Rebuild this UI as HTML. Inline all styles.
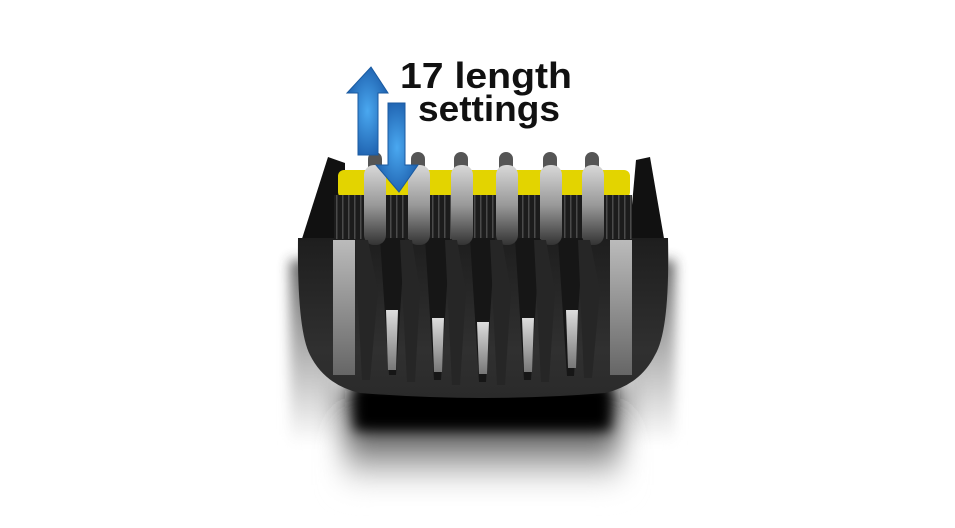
<!DOCTYPE html>
<html><head><meta charset="utf-8"><style>
html,body{margin:0;padding:0;background:#fff;}
svg{display:block}
</style></head><body>
<svg width="955" height="528" viewBox="0 0 955 528" xmlns="http://www.w3.org/2000/svg">
<defs>
<filter id="blur" x="-30%" y="-30%" width="160%" height="160%"><feGaussianBlur stdDeviation="14"/></filter>
<filter id="blur2" x="-30%" y="-30%" width="160%" height="160%"><feGaussianBlur stdDeviation="6"/></filter>
<linearGradient id="sh" x1="0" y1="0" x2="0" y2="1">
<stop offset="0" stop-color="#000"/><stop offset="0.3" stop-color="#111"/><stop offset="0.7" stop-color="#999"/><stop offset="1" stop-color="#fff"/>
</linearGradient>
<linearGradient id="side" x1="0" y1="0" x2="0" y2="1">
<stop offset="0" stop-color="#333"/><stop offset="0.5" stop-color="#999"/><stop offset="1" stop-color="#fff"/>
</linearGradient>
<linearGradient id="body" x1="0" y1="0" x2="0" y2="1">
<stop offset="0" stop-color="#1e1e1e"/><stop offset="0.7" stop-color="#303030"/><stop offset="1" stop-color="#2a2a2a"/>
</linearGradient>
<linearGradient id="tooth" x1="0" y1="0" x2="0" y2="1">
<stop offset="0" stop-color="#d8d8d8"/><stop offset="0.5" stop-color="#999"/><stop offset="1" stop-color="#333"/>
</linearGradient>
<linearGradient id="metal" x1="0" y1="0" x2="0" y2="1">
<stop offset="0" stop-color="#ddd"/><stop offset="1" stop-color="#777"/>
</linearGradient>
<linearGradient id="sidestrip" x1="0" y1="0" x2="0" y2="1">
<stop offset="0" stop-color="#bbb"/><stop offset="1" stop-color="#666"/>
</linearGradient>
<radialGradient id="arr" cx="0.5" cy="0.5" r="0.6">
<stop offset="0" stop-color="#4aa8f0"/><stop offset="1" stop-color="#1a5aa8"/>
</radialGradient>
<pattern id="ridge" width="6" height="10" patternUnits="userSpaceOnUse">
<rect width="6" height="10" fill="#1c1c1c"/><rect x="0" width="1.5" height="10" fill="#4a4a4a"/>
</pattern>
</defs>

<!-- side fades -->
<rect x="290" y="260" width="45" height="185" fill="url(#side)" opacity="0.75" filter="url(#blur2)"/>
<rect x="630" y="260" width="45" height="185" fill="url(#side)" opacity="0.75" filter="url(#blur2)"/>
<!-- handle shadow -->
<rect x="345" y="380" width="275" height="105" fill="url(#sh)" filter="url(#blur)"/>
<rect x="355" y="385" width="255" height="45" fill="#000" filter="url(#blur2)"/>

<!-- walls -->
<path d="M300,245 L328,157 L345,163 L345,245 Z" fill="#111"/>
<path d="M666,250 L650,157 L636,160 L628,250 Z" fill="#111"/>

<!-- lower body -->
<path d="M298,238 L668,238 Q670,330 655,355 Q640,385 605,393 Q483,403 360,393 Q325,385 310,355 Q297,330 298,238 Z" fill="url(#body)"/>
<rect x="333" y="240" width="22" height="135" fill="url(#sidestrip)"/>
<rect x="610" y="240" width="22" height="135" fill="url(#sidestrip)"/>

<!-- yellow band -->
<rect x="338" y="170" width="292" height="28" rx="6" fill="#e3d400"/>
<!-- ridged blade -->
<rect x="334" y="195" width="298" height="44" fill="url(#ridge)"/>

<!-- inner dark wedges and metal strips -->
<g>
<polygon points="380,238 405,238 396,375 389,375" fill="#161616"/>
<polygon points="425,238 450,238 441,380 434,380" fill="#161616"/>
<polygon points="470,238 495,238 486,382 479,382" fill="#161616"/>
<polygon points="515,238 540,238 531,380 524,380" fill="#161616"/>
<polygon points="558,238 583,238 574,376 567,376" fill="#161616"/>
<polygon points="386,310 398,310 396,370 388,370" fill="url(#metal)"/>
<polygon points="432,318 444,318 442,372 434,372" fill="url(#metal)"/>
<polygon points="477,322 489,322 487,374 479,374" fill="url(#metal)"/>
<polygon points="522,318 534,318 532,372 524,372" fill="url(#metal)"/>
<polygon points="566,310 578,310 576,368 568,368" fill="url(#metal)"/>
</g>

<!-- comb teeth tops behind -->
<g fill="#555">
<rect x="368" y="152" width="14" height="30" rx="7"/>
<rect x="411" y="152" width="14" height="30" rx="7"/>
<rect x="454" y="152" width="14" height="30" rx="7"/>
<rect x="499" y="152" width="14" height="30" rx="7"/>
<rect x="543" y="152" width="14" height="30" rx="7"/>
<rect x="585" y="152" width="14" height="30" rx="7"/>
</g>
<!-- gray teeth -->
<g fill="url(#tooth)">
<rect x="364" y="165" width="22" height="80" rx="10"/>
<rect x="408" y="165" width="22" height="80" rx="10"/>
<rect x="451" y="165" width="22" height="80" rx="10"/>
<rect x="496" y="165" width="22" height="80" rx="10"/>
<rect x="540" y="165" width="22" height="80" rx="10"/>
<rect x="582" y="165" width="22" height="80" rx="10"/>
</g>
<!-- dark tall teeth below -->
<g fill="#262626">
<polygon points="355,240 368,240 378,290 370,380 362,380"/>
<polygon points="400,240 412,240 420,290 415,382 407,382"/>
<polygon points="445,240 457,240 466,290 460,385 452,385"/>
<polygon points="490,240 502,240 511,290 505,385 497,385"/>
<polygon points="534,240 546,240 555,290 549,382 541,382"/>
<polygon points="578,240 590,240 600,290 592,378 584,378"/>
</g>

<!-- arrows -->
<path d="M371,67 L388,93 L378,93 L378,155 L358,155 L358,93 L347,93 Z" fill="url(#arr)" stroke="#1a5aa0" stroke-width="1"/>
<path d="M388,103 L405,103 L405,165 L418,165 L399,192 L376,165 L388,165 Z" fill="url(#arr)" stroke="#1a5aa0" stroke-width="1"/>

<!-- text -->
<text x="400" y="88" font-family="Liberation Sans, sans-serif" font-weight="bold" font-size="36" fill="#111" textLength="172" lengthAdjust="spacingAndGlyphs">17 length</text>
<text x="418" y="121" font-family="Liberation Sans, sans-serif" font-weight="bold" font-size="36" fill="#111" textLength="142" lengthAdjust="spacingAndGlyphs">settings</text>
</svg>
</body></html>
